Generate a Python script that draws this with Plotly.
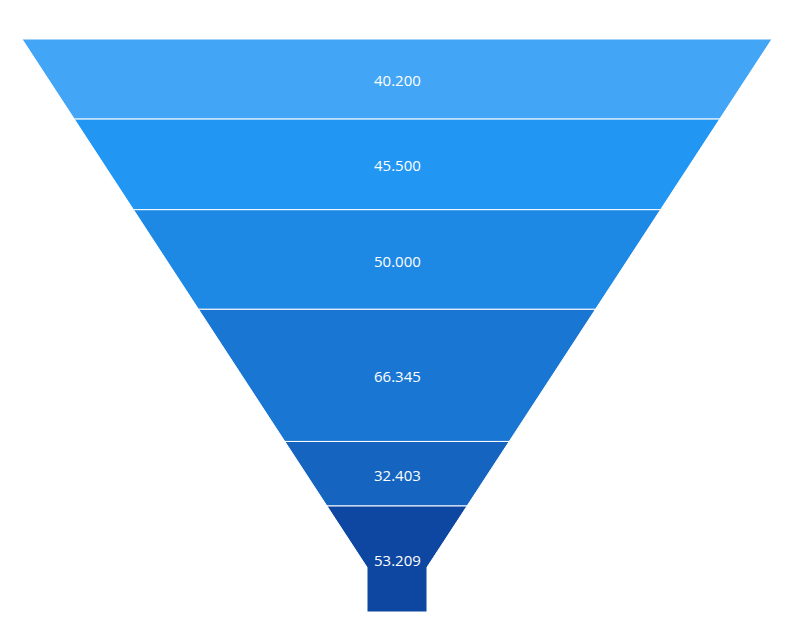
import plotly.graph_objects as go

values = [40.2, 45.5, 50.0, 66.345, 32.403, 53.209]
labels = ["40.200", "45.500", "50.000", "66.345", "32.403", "53.209"]
colors = ["#42A5F5", "#2196F3", "#1E88E5", "#1976D2", "#1565C0", "#0D47A1"]

neck_width_frac = 0.08
neck_height_frac = 0.078

total = sum(values)
neck_y = total * (1 - neck_height_frac)
top_half = 0.5
neck_half = neck_width_frac / 2


def half_width(y):
    if y >= neck_y:
        return neck_half
    return top_half - (top_half - neck_half) * y / neck_y


fig = go.Figure()
start = 0.0
for v, lab, c in zip(values, labels, colors):
    end = start + v
    ys = [start]
    if start < neck_y < end:
        ys.append(neck_y)
    ys.append(end)
    right = [(half_width(y), y) for y in ys]
    left = [(-half_width(y), y) for y in reversed(ys)]
    pts = right + left + [right[0]]
    fig.add_trace(go.Scatter(
        x=[p[0] for p in pts], y=[p[1] for p in pts],
        mode="lines", fill="toself", fillcolor=c,
        line=dict(color="white", width=1),
        hoverinfo="skip", showlegend=False,
    ))
    fig.add_annotation(x=0, y=(start + end) / 2, text=lab, showarrow=False,
                       yshift=-1,
                       font=dict(color="white", size=15, family="Open Sans"))
    start = end

fig.update_layout(
    width=805, height=636,
    margin=dict(l=22, r=33, t=39, b=24),
    paper_bgcolor="white", plot_bgcolor="white",
    xaxis=dict(range=[-0.5, 0.5], visible=False, fixedrange=True),
    yaxis=dict(range=[total, 0], visible=False, fixedrange=True),
)
fig.write_html("out.html")
